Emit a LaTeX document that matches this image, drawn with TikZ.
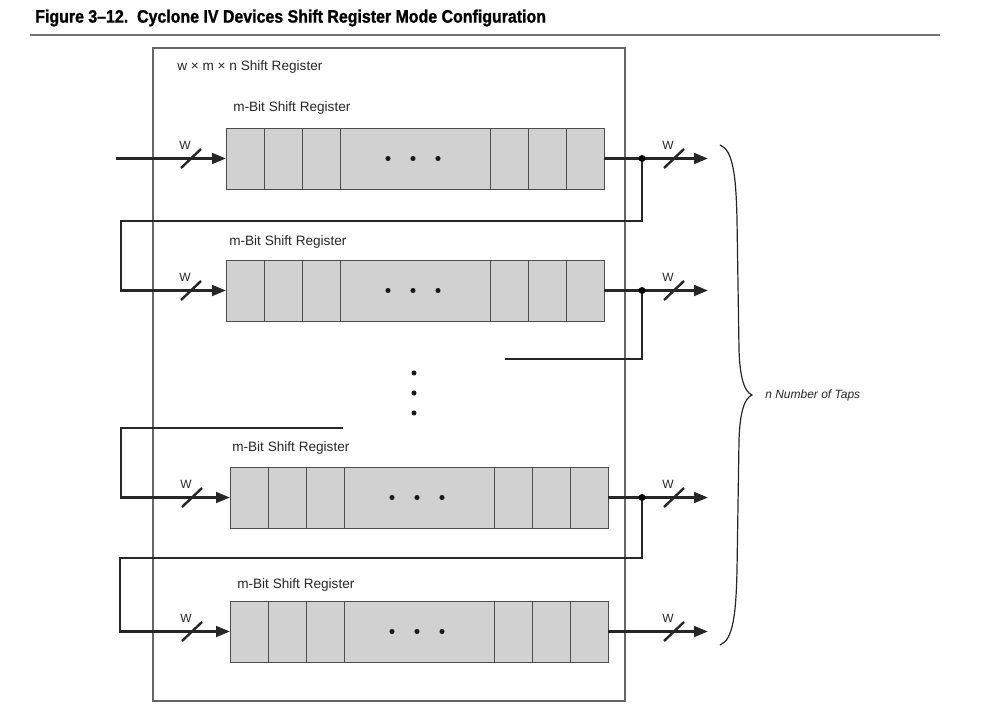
\documentclass[tikz,border=0pt]{standalone}
\usepackage{fontspec}
\setmainfont{Liberation Sans}
\newfontfamily\titlefont[FakeStretch=0.885,Ligatures=TeX,BoldFeatures={FakeBold=1.2}]{Liberation Sans}
\usetikzlibrary{arrows.meta,calc}
\tikzset{
  wire/.style={line width=2pt, draw=black!85},
  arr/.style={wire, -{Triangle[length=10.5pt,width=8pt]}},
  regbox/.style={draw=black!70, line width=0.75pt, fill=black!18, minimum width=283.5pt, minimum height=45.75pt, inner sep=0pt, outer sep=0pt},
  cellline/.style={draw=black!70, line width=0.75pt},
  frame/.style={draw=black!60, line width=0.8pt},
  slash/.style={line width=1.8pt, draw=black!85},
  lbl/.style={font=\fontsize{10.2}{12}\selectfont, text=black!85, anchor=west, inner sep=0pt},
  wlbl/.style={font=\fontsize{9}{10}\selectfont, text=black!85, inner sep=0pt},
  dotf/.style={fill=black!90}
}
\newcommand\mkreg[3]{%
  \node[regbox, anchor=north west] (#1) at (#2,#3) {};
  \foreach \d in {38,76,114,264,302,340}
    \draw[cellline] ($(#1.north west)+(\d,0)$) -- ($(#1.south west)+(\d,0)$);
  \foreach \d in {162,187,212}
    \fill[dotf] ($(#1.west)+(\d,0)$) circle (1.9pt);
}
\newcommand\wslash[2]{%
  \draw[slash] (#1-10,#2+9.5) -- (#1+10,#2-9.5);
  \node[wlbl] at (#1-6,#2-13.5) {W};
}
\begin{document}
\begin{tikzpicture}[x=0.75pt,y=-0.75pt]
\useasboundingbox (0,0) rectangle (1002,707);
% title
\node[anchor=west, inner sep=0pt, font=\titlefont\bfseries\fontsize{13.5}{15}\selectfont] (title) at (35,18) {Figure 3–12.\ \ Cyclone IV Devices Shift Register Mode Configuration};
\draw[line width=1.5pt, draw=black!55] (30,35) -- (940,35);
% outer frame
\draw[frame] (153,48) rectangle (625,701);
\node[lbl] (outer) at (177,67) {w × m × n Shift Register};
% registers
\mkreg{r1}{226}{128}
\mkreg{r2}{226}{260}
\mkreg{r3}{230}{467}
\mkreg{r4}{230}{601}
\node[lbl] (l1) at (233,108) {m-Bit Shift Register};
\node[lbl] (l2) at (229,242) {m-Bit Shift Register};
\node[lbl] (l3) at (232,448) {m-Bit Shift Register};
\node[lbl] (l4) at (237,585) {m-Bit Shift Register};
% vertical dots
\foreach \yy in {373,393,413} \fill[dotf] (414,\yy) circle (1.9pt);
% coordinates
\coordinate (in1) at (116,158.5);
\coordinate (j1) at (642,158.5);
\coordinate (j2) at (642,290.5);
\coordinate (j3) at (642,497.5);
\coordinate (o1) at (708,158.5);
\coordinate (o2) at (708,290.5);
\coordinate (o3) at (708,497.5);
\coordinate (o4) at (708,631.5);
\coordinate (f1) at (121,221);
\coordinate (t2) at (505,359);
\coordinate (t3) at (343,428);
\coordinate (f3) at (121,428);
\coordinate (f4) at (120,558);
% connectors
\draw[arr] (in1) -- (r1.west);
\draw[arr] (r1.east) -- (o1);
\draw[arr] (j1) -- (j1|-f1) -- (f1) |- (r2.west);
\draw[arr] (r2.east) -- (o2);
\draw[wire] (j2) |- (t2);
\draw[arr] (t3) -- (f3) |- (r3.west);
\draw[arr] (r3.east) -- (o3);
\draw[arr] (j3) -- (j3|-f4) -- (f4) |- (r4.west);
\draw[arr] (r4.east) -- (o4);
\foreach \j in {j1,j2,j3} \fill[black] (\j) circle (2.6pt);
% bus slashes
\wslash{191}{158.5}
\wslash{191}{290.5}
\wslash{192}{497.5}
\wslash{192}{631.5}
\wslash{674}{158.5}
\wslash{674}{290.5}
\wslash{674}{497.5}
\wslash{674}{631.5}
% brace
\draw[line width=0.9pt, draw=black!85] (720,145) .. controls (733,150) and (736,175) .. (737,220) -- (739,350) .. controls (740,380) and (745,392) .. (752,395) .. controls (745,398) and (740,410) .. (739,440) -- (737,570) .. controls (736,615) and (733,640) .. (720,645);
\node[lbl, font=\fontsize{9}{11}\selectfont\itshape] (taps) at (765,395) {n Number of Taps};
\end{tikzpicture}
\end{document}
